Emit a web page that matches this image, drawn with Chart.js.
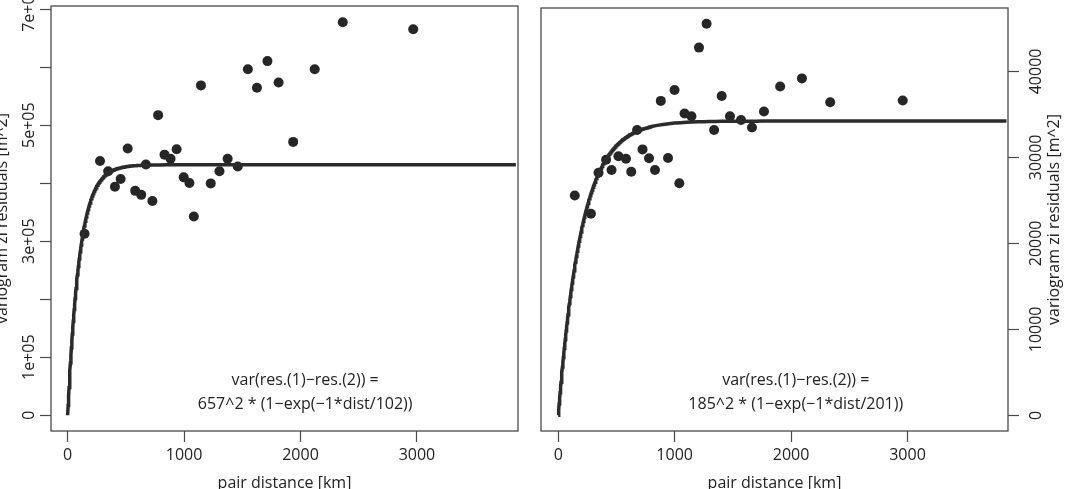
<!DOCTYPE html>
<html>
<head>
<meta charset="utf-8">
<script src="https://cdn.jsdelivr.net/npm/chart.js@4.4.0/dist/chart.umd.min.js"></script>
<style>
  body { margin: 0; background: #fff; }
  canvas { position: absolute; top: 0; }
  #c1 { left: 0; }
  #c2 { left: 530px; }
</style>
</head>
<body>
<canvas id="c1" width="530" height="489"></canvas>
<canvas id="c2" width="540" height="489"></canvas>
<script>
// binned variogram, left panel
const leftDist = [145, 278, 348, 406, 455, 516, 580, 632, 672, 728, 777, 832, 884, 936, 997, 1046, 1084, 1145, 1229, 1304, 1374, 1461, 1548, 1626, 1716, 1812, 1937, 2122, 2363, 2968];
const leftGamma = [312800, 438100, 420500, 393800, 407200, 459600, 386700, 379800, 432200, 369300, 517200, 449100, 442000, 458400, 410000, 400200, 342500, 568500, 399600, 420500, 442000, 428800, 596400, 564300, 610300, 573600, 471100, 596400, 677300, 665100];

// binned variogram, right panel
const rightDist = [142, 281, 346, 411, 458, 517, 582, 627, 677, 724, 780, 831, 881, 943, 999, 1040, 1085, 1144, 1209, 1274, 1339, 1404, 1475, 1570, 1664, 1767, 1906, 2093, 2336, 2959];
const rightGamma = [25560, 23450, 28220, 29730, 28540, 30130, 29850, 28340, 33190, 30930, 29890, 28540, 36570, 29930, 37840, 26990, 35100, 34780, 42770, 45550, 33190, 37130, 34780, 34340, 33470, 35340, 38240, 39190, 36410, 36610];

// fitted exponential models, as printed on the plots
const leftModel = { sd: 657, range: 102 };
const rightModel = { sd: 185, range: 201 };

const xTicks = [0, 1000, 2000, 3000];
const leftYTicks = [0, 100000, 200000, 300000, 400000, 500000, 600000, 700000];
const leftYLabels = ['0', '1e+05', '', '3e+05', '', '5e+05', '', '7e+05'];
const rightYTicks = [0, 10000, 20000, 30000, 40000];
const rightYLabels = ['0', '10000', '20000', '30000', '40000'];

const xTitle = 'pair distance [km]';
const yTitle = 'variogram zi residuals [m^2]';

const FONT = '"Open Sans", "Noto Sans", sans-serif';
const INK = '#222';
const LINE = '#4a4a4a';

function modelCurve(m, xmax) {
    const pts = [];
    for (let d = 0; d <= xmax; d += d < 800 ? 4 : 50) {
        pts.push({ x: d, y: m.sd * m.sd * (1 - Math.exp(-d / m.range)) });
    }
    return pts;
}

function toPoints(xs, ys) {
    return xs.map((x, i) => ({ x, y: ys[i] }));
}

// box, rotated y labels, titles and the model formula
const decor = {
    id: 'decor',
    afterDraw(chart, args, o) {
        const { ctx, chartArea: a } = chart;
        const x = chart.scales.x, y = chart.scales.y;
        ctx.save();
        ctx.strokeStyle = LINE;
        ctx.lineWidth = 1.3;
        ctx.strokeRect(a.left, a.top, a.right - a.left, a.bottom - a.top);

        ctx.fillStyle = INK;
        ctx.font = '16px ' + FONT;
        ctx.textAlign = 'center';
        ctx.textBaseline = 'middle';
        o.yLabels.forEach((t, i) => {
            if (!t) return;
            ctx.save();
            ctx.translate(o.labelX, y.getPixelForValue(o.yTicks[i]));
            ctx.rotate(-Math.PI / 2);
            ctx.fillText(t, 0, 0);
            ctx.restore();
        });
        ctx.save();
        ctx.translate(o.titleX, (a.top + a.bottom) / 2);
        ctx.rotate(-Math.PI / 2);
        ctx.fillText(yTitle, 0, 0);
        ctx.restore();
        ctx.fillText(xTitle, (a.left + a.right) / 2, 483);

        const nx = x.getPixelForValue(o.noteX);
        ctx.fillText('var(res.(1)\u2212res.(2)) =', nx, 380.7);
        ctx.fillText(o.note, nx, 404);
        ctx.restore();
    }
};

function makeChart(id, cfg) {
    const tickFont = { family: FONT, size: 16 };
    return new Chart(document.getElementById(id), {
        type: 'scatter',
        data: {
            datasets: [
                {
                    data: modelCurve(cfg.model, cfg.xmax),
                    showLine: true, pointRadius: 0, borderColor: '#2b2b2b', borderWidth: 3.5, tension: 0
                },
                {
                    data: toPoints(cfg.dist, cfg.gamma),
                    pointRadius: 5, pointBackgroundColor: '#262626', pointBorderWidth: 0, borderColor: '#262626'
                }
            ]
        },
        options: {
            responsive: false,
            animation: false,
            events: [],
            layout: { autoPadding: false, padding: cfg.padding },
            plugins: { legend: { display: false }, tooltip: { enabled: false }, decor: cfg.decor },
            scales: {
                x: {
                    type: 'linear', min: cfg.xmin, max: cfg.xmax,
                    afterBuildTicks: s => { s.ticks = xTicks.map(v => ({ value: v })); },
                    afterFit: s => { s.height = 58; },
                    border: { display: false },
                    grid: { drawOnChartArea: false, tickLength: 11, tickColor: LINE, tickWidth: 1.2 },
                    ticks: { font: tickFont, color: INK, padding: 4, maxRotation: 0, callback: v => String(v) }
                },
                y: {
                    type: 'linear', position: cfg.yPos, min: cfg.ymin, max: cfg.ymax,
                    afterBuildTicks: s => { s.ticks = cfg.decor.yTicks.map(v => ({ value: v })); },
                    afterFit: s => { s.width = cfg.yWidth; },
                    border: { display: false },
                    grid: { drawOnChartArea: false, tickLength: 11, tickColor: LINE, tickWidth: 1.2 },
                    ticks: { display: false }
                }
            }
        },
        plugins: [decor]
    });
}

makeChart('c1', {
    dist: leftDist, gamma: leftGamma, model: leftModel,
    xmin: -143, xmax: 3868, ymin: -27150, ymax: 705300,
    yPos: 'left', yWidth: 51,
    padding: { left: 0, right: 12, top: 6, bottom: 0 },
    decor: { yTicks: leftYTicks, yLabels: leftYLabels, labelX: 29.5, titleX: 2, 
             noteX: 2040, note: '657^2 * (1\u2212exp(\u22121*dist/102))' }
});

makeChart('c2', {
    dist: rightDist, gamma: rightGamma, model: rightModel,
    xmin: -148, xmax: 3863, ymin: -1822, ymax: 47375,
    yPos: 'right', yWidth: 62,
    padding: { left: 11, right: 0, top: 8, bottom: 0 },
    decor: { yTicks: rightYTicks, yLabels: rightYLabels, labelX: 506.5, titleX: 524,
             noteX: 2040, note: '185^2 * (1\u2212exp(\u22121*dist/201))' }
});
</script>
</body>
</html>
